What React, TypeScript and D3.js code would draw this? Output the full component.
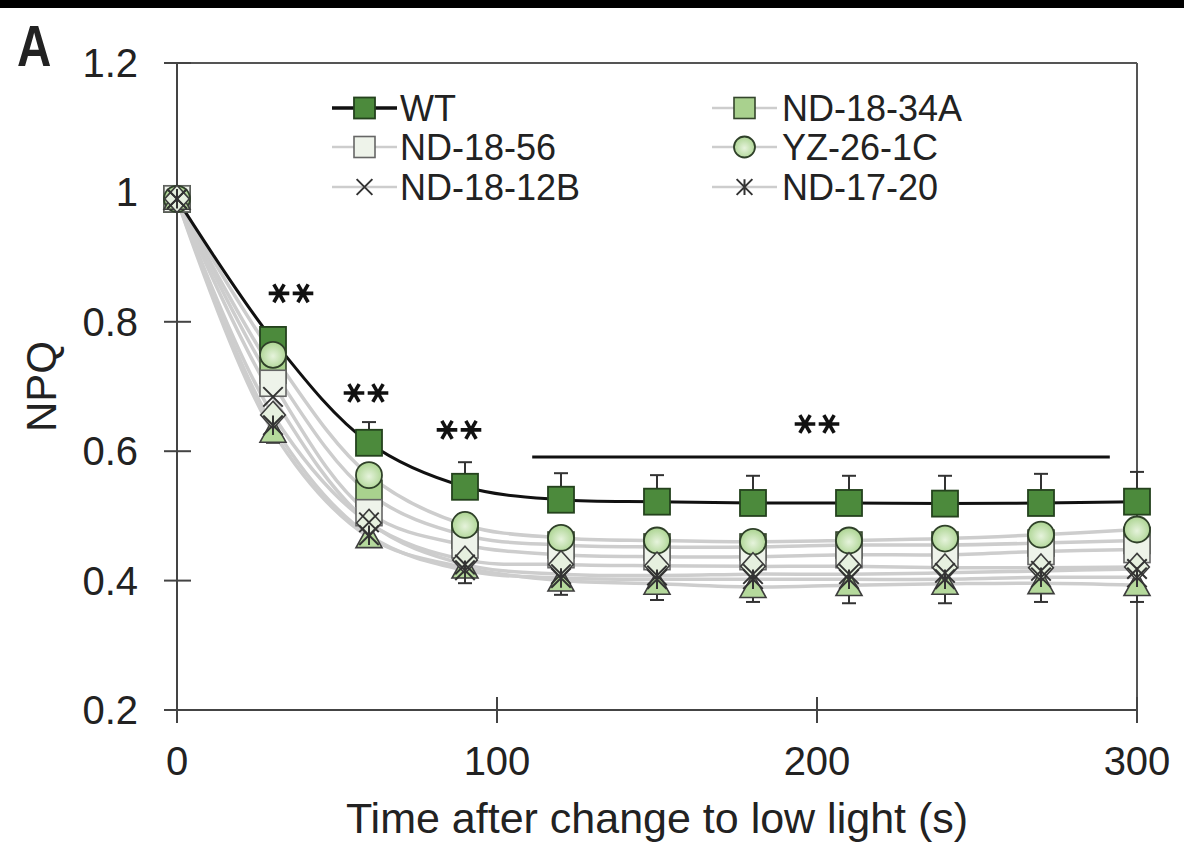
import React from 'react';
import * as d3 from 'd3';

// ---- data ----
const times = [0, 30, 60, 90, 120, 150, 180, 210, 240, 270, 300];
const wtValues = [0.99, 0.772, 0.613, 0.545, 0.525, 0.522, 0.52, 0.52, 0.519, 0.52, 0.522];
const wtErrUp = [0.0, 0.02, 0.032, 0.038, 0.041, 0.041, 0.042, 0.042, 0.043, 0.045, 0.046];
const nd1834aValues = [0.99, 0.725, 0.535, 0.47, 0.455, 0.452, 0.452, 0.455, 0.455, 0.458, 0.462];
const nd1856Values = [0.99, 0.705, 0.505, 0.455, 0.44, 0.437, 0.437, 0.44, 0.44, 0.445, 0.448];
const yz261cValues = [0.99, 0.749, 0.563, 0.486, 0.466, 0.462, 0.46, 0.462, 0.465, 0.471, 0.479];
const nd1812bValues = [0.99, 0.684, 0.49, 0.425, 0.41, 0.408, 0.41, 0.41, 0.412, 0.415, 0.418];
const nd1720Values = [0.99, 0.64, 0.47, 0.416, 0.404, 0.402, 0.402, 0.402, 0.402, 0.405, 0.405];
const diamondValues = [0.99, 0.656, 0.489, 0.432, 0.425, 0.423, 0.422, 0.422, 0.42, 0.42, 0.421];
const triangleValues = [0.99, 0.63, 0.467, 0.42, 0.4, 0.395, 0.39, 0.393, 0.395, 0.396, 0.393];
const lowErrDown = [0.0, 0.017, 0.015, 0.024, 0.022, 0.025, 0.023, 0.028, 0.03, 0.029, 0.026];

const xTicks = [0, 100, 200, 300];
const yTicks = [0.2, 0.4, 0.6, 0.8, 1, 1.2];
const yTickLabels = ['0.2', '0.4', '0.6', '0.8', '1', '1.2'];

const legendCol1 = ['WT', 'ND-18-56', 'ND-18-12B'];
const legendCol2 = ['ND-18-34A', 'YZ-26-1C', 'ND-17-20'];

// significance marks: [time, npq position]
const sigMarks = [
  [30, 0.844],
  [60, 0.69],
  [90, 0.633],
  [200, 0.642],
];
const sigOffsets = [18, -3, -6, 0];
const sigLine = [111, 291.5, 0.591];

type Kind = 'sqDark' | 'sqLight' | 'sqWhite' | 'circle' | 'x' | 'ast' | 'diamond' | 'triangle';

interface Series {
  name: string;
  values: number[];
  kind: Kind;
}

// drawing order: WT first (bottom), the lines' markers after it
const series: Series[] = [
  { name: 'WT', values: wtValues, kind: 'sqDark' },
  { name: 'ND-18-34A', values: nd1834aValues, kind: 'sqLight' },
  { name: 'ND-18-56', values: nd1856Values, kind: 'sqWhite' },
  { name: 'YZ-26-1C', values: yz261cValues, kind: 'circle' },
  { name: 'triangle', values: triangleValues, kind: 'triangle' },
  { name: 'diamond', values: diamondValues, kind: 'diamond' },
  { name: 'ND-18-12B', values: nd1812bValues, kind: 'x' },
  { name: 'ND-17-20', values: nd1720Values, kind: 'ast' },
];

const legendKinds: Record<string, Kind> = {
  WT: 'sqDark',
  'ND-18-56': 'sqWhite',
  'ND-18-12B': 'x',
  'ND-18-34A': 'sqLight',
  'YZ-26-1C': 'circle',
  'ND-17-20': 'ast',
};

const FONT = "'Liberation Sans', Arial, Helvetica, sans-serif";

function Marker({ kind, cx, cy, s }: { kind: Kind; cx: number; cy: number; s: number }) {
  const h = s / 2;
  switch (kind) {
    case 'sqDark':
      return <rect x={cx - h} y={cy - h} width={s} height={s} fill="#4c8a3c" stroke="#24421d" strokeWidth={1.8} />;
    case 'sqLight':
      return <rect x={cx - h} y={cy - h} width={s} height={s} fill="#a9d18e" stroke="#34452c" strokeWidth={1.6} />;
    case 'sqWhite':
      return <rect x={cx - h} y={cy - h} width={s} height={s} fill="#eef3ea" stroke="#666" strokeWidth={1.6} />;
    case 'circle':
      return <circle cx={cx} cy={cy} r={h} fill="url(#circGrad)" stroke="#2f4029" strokeWidth={1.8} />;
    case 'diamond':
      return (
        <path
          d={`M${cx},${cy - h * 1.05}L${cx + h * 0.95},${cy}L${cx},${cy + h * 1.05}L${cx - h * 0.95},${cy}Z`}
          fill="#e6f0df"
          stroke="#3d3d3d"
          strokeWidth={1.6}
        />
      );
    case 'triangle':
      return (
        <path
          d={`M${cx},${cy - h}L${cx + h},${cy + h * 0.8}L${cx - h},${cy + h * 0.8}Z`}
          fill="#b5d99c"
          stroke="#3d3d3d"
          strokeWidth={1.6}
        />
      );
    case 'x': {
      const r = h * 0.75;
      return (
        <path d={`M${cx - r},${cy - r}L${cx + r},${cy + r}M${cx - r},${cy + r}L${cx + r},${cy - r}`} stroke="#333" strokeWidth={2} fill="none" />
      );
    }
    case 'ast': {
      const r = h * 0.75;
      return (
        <path
          d={`M${cx - r},${cy - r}L${cx + r},${cy + r}M${cx - r},${cy + r}L${cx + r},${cy - r}M${cx},${cy - r}L${cx},${cy + r}`}
          stroke="#333"
          strokeWidth={2}
          fill="none"
        />
      );
    }
  }
  return null;
}

export default function App() {
  const W = 1184;
  const H = 846;
  const x = d3.scaleLinear().domain([0, 300]).range([177, 1137]);
  const y = d3.scaleLinear().domain([0.2, 1.2]).range([710, 63]);

  const lineGen = d3
    .line<number>()
    .x((_, i) => x(times[i]))
    .y((d) => y(d))
    .curve(d3.curveCatmullRom.alpha(0.5));

  const astSym = d3.symbol().type(d3.symbolAsterisk).size(300);
  const astPath = astSym() as string;

  const grayLine = '#cdcdcd';
  const legendRowY = [108, 147, 187];

  return (
    <svg
      width={W}
      height={H}
      viewBox={`0 0 ${W} ${H}`}
      style={{ position: 'absolute', left: 0, top: 0, display: 'block', background: '#fff' }}
      fontFamily={FONT}
    >
      <defs>
        <radialGradient id="circGrad" cx="50%" cy="55%" r="60%">
          <stop offset="0%" stopColor="#e6f3dc" />
          <stop offset="100%" stopColor="#a6d18a" />
        </radialGradient>
      </defs>
      <rect x={0} y={0} width={W} height={H} fill="#fff" />
      <rect x={0} y={0} width={W} height={8} fill="#000" />

      {/* panel label */}
      <text x={17} y={66} fontSize={58} fontWeight="bold" fill="#222" transform="translate(17,0) scale(0.82,1) translate(-17,0)">
        A
      </text>

      {/* frame */}
      <line x1={165} x2={1137} y1={y(1.2)} y2={y(1.2)} stroke="#555" strokeWidth={2} />
      <line x1={1137} x2={1137} y1={y(1.2)} y2={y(0.2)} stroke="#555" strokeWidth={2} />
      <line x1={x(0)} x2={x(0)} y1={y(1.2)} y2={y(0.2)} stroke="#444" strokeWidth={2} />
      <line x1={x(0)} x2={1137} y1={y(0.2)} y2={y(0.2)} stroke="#444" strokeWidth={2} />

      {/* y ticks */}
      {yTicks.map((t, i) => (
        <g key={'yt' + i}>
          <line x1={164} x2={191} y1={y(t)} y2={y(t)} stroke="#444" strokeWidth={2} />
          <text x={138} y={y(t)} textAnchor="end" dominantBaseline="central" fontSize={40} fill="#222">
            {yTickLabels[i]}
          </text>
        </g>
      ))}

      {/* x ticks */}
      {xTicks.map((t, i) => (
        <g key={'xt' + i}>
          <line x1={x(t)} x2={x(t)} y1={697} y2={723} stroke="#444" strokeWidth={2} />
          <text x={x(t)} y={775} textAnchor="middle" fontSize={40} fill="#222">
            {t}
          </text>
        </g>
      ))}

      {/* axis titles */}
      <text x={(x(0) + x(300)) / 2} y={833} textAnchor="middle" fontSize={43} fill="#222">
        Time after change to low light (s)
      </text>
      <text
        transform={`translate(56,${(y(0.2) + y(1.2)) / 2}) rotate(-90)`}
        textAnchor="middle"
        fontSize={42}
        fill="#222"
      >
        NPQ
      </text>

      {/* lines */}
      {series
        .filter((s) => s.name !== 'WT')
        .map((s) => (
          <path key={'l' + s.name} d={lineGen(s.values) as string} fill="none" stroke={grayLine} strokeWidth={3.5} />
        ))}
      <path d={lineGen(wtValues) as string} fill="none" stroke="#111" strokeWidth={3} />

      {/* error bars */}
      {times.map((t, i) =>
        i === 0 ? null : (
          <g key={'eb' + i} stroke="#333" strokeWidth={2}>
            <line x1={x(t)} x2={x(t)} y1={y(wtValues[i])} y2={y(wtValues[i] + wtErrUp[i])} />
            <line x1={x(t) - 7} x2={x(t) + 7} y1={y(wtValues[i] + wtErrUp[i])} y2={y(wtValues[i] + wtErrUp[i])} />
            <line x1={x(t)} x2={x(t)} y1={y(triangleValues[i])} y2={y(triangleValues[i] - lowErrDown[i])} />
            <line
              x1={x(t) - 7}
              x2={x(t) + 7}
              y1={y(triangleValues[i] - lowErrDown[i])}
              y2={y(triangleValues[i] - lowErrDown[i])}
            />
          </g>
        )
      )}

      {/* markers */}
      {series.map((s) => (
        <g key={'m' + s.name}>
          {s.values.map((v, i) => (
            <Marker key={i} kind={s.kind} cx={x(times[i])} cy={y(v)} s={26} />
          ))}
        </g>
      ))}

      {/* significance */}
      {sigMarks.map(([t, v], i) => (
        <g key={'sig' + i} transform={`translate(${x(t) + sigOffsets[i]},${y(v)})`}>
          <path d={astPath} transform="translate(-12,0) rotate(90)" stroke="#111" strokeWidth={3.6} fill="none" />
          <path d={astPath} transform="translate(12,0) rotate(90)" stroke="#111" strokeWidth={3.6} fill="none" />
        </g>
      ))}
      <line x1={x(sigLine[0])} x2={x(sigLine[1])} y1={y(sigLine[2])} y2={y(sigLine[2])} stroke="#111" strokeWidth={3} />

      {/* legend */}
      {[legendCol1, legendCol2].map((col, ci) => {
        const lx0 = ci === 0 ? 332 : 712;
        const lx1 = ci === 0 ? 397 : 777;
        const tx = ci === 0 ? 400 : 782;
        return (
          <g key={'lc' + ci}>
            {col.map((name, ri) => (
              <g key={name}>
                <line
                  x1={lx0}
                  x2={lx1}
                  y1={legendRowY[ri]}
                  y2={legendRowY[ri]}
                  stroke={name === 'WT' ? '#111' : grayLine}
                  strokeWidth={name === 'WT' ? 3.5 : 2.5}
                />
                <Marker kind={legendKinds[name]} cx={(lx0 + lx1) / 2} cy={legendRowY[ri]} s={21} />
                <text x={tx} y={legendRowY[ri]} dominantBaseline="central" fontSize={36} fill="#222">
                  {name}
                </text>
              </g>
            ))}
          </g>
        );
      })}
    </svg>
  );
}
